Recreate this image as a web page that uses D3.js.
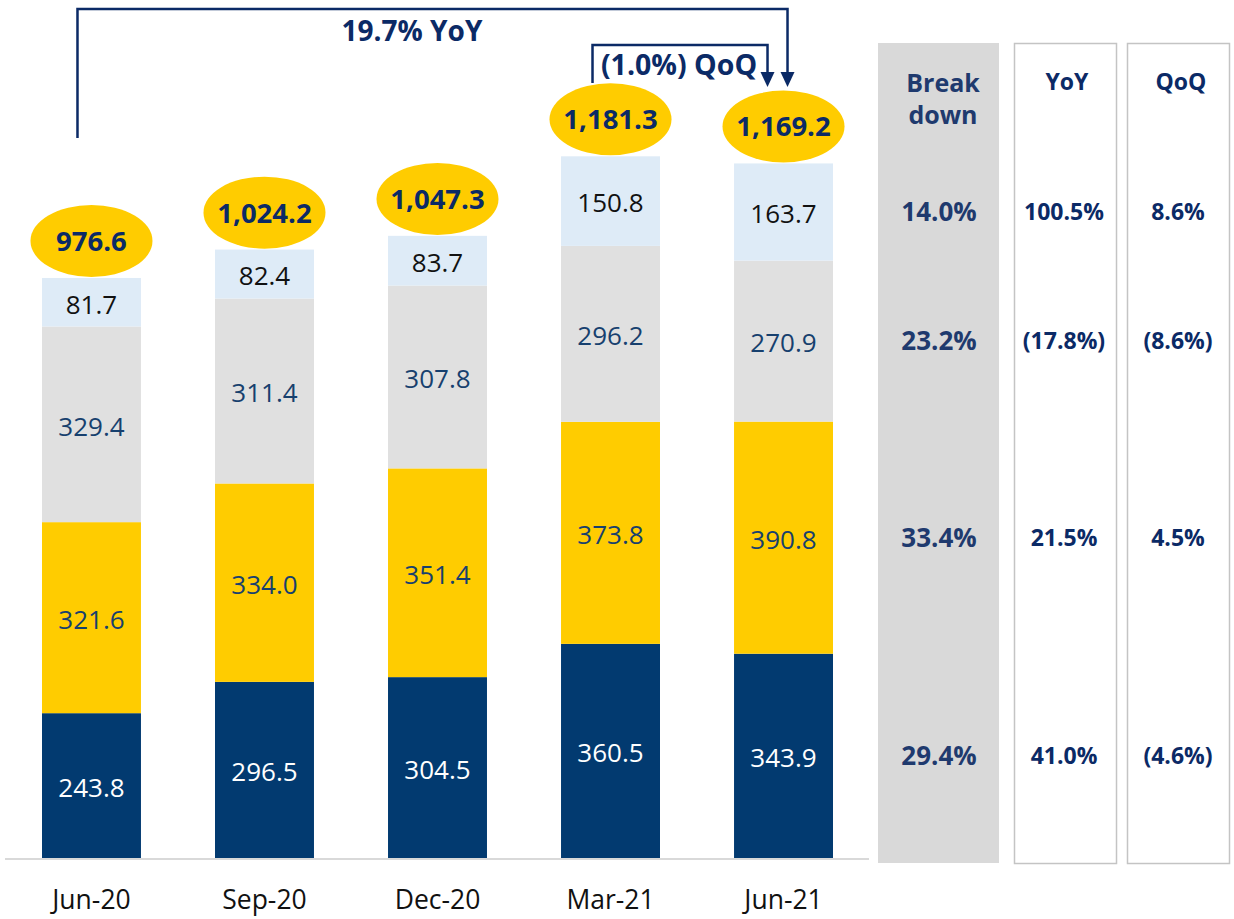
<!DOCTYPE html>
<html>
<head>
<meta charset="utf-8">
<script src="https://cdn.jsdelivr.net/npm/d3@7/dist/d3.min.js"></script>
<style>
  html, body { margin: 0; padding: 0; background: #fff; }
  svg { display: block; font-family: "Open Sans", "Noto Sans", sans-serif; }
</style>
</head>
<body>
<svg id="chart" width="1234" height="919"></svg>
<script>
// Quarterly figures, stacked bottom to top
const categories = ["Jun-20", "Sep-20", "Dec-20", "Mar-21", "Jun-21"];
const navySeries = [243.8, 296.5, 304.5, 360.5, 343.9];
const yellowSeries = [321.6, 334.0, 351.4, 373.8, 390.8];
const greySeries = [329.4, 311.4, 307.8, 296.2, 270.9];
const lightSeries = [81.7, 82.4, 83.7, 150.8, 163.7];
const totals = [976.6, 1024.2, 1047.3, 1181.3, 1169.2];

// Latest-quarter side table, rows ordered bottom to top like the stack
const breakdownShare = ["29.4%", "33.4%", "23.2%", "14.0%"];
const yoyChange = ["41.0%", "21.5%", "(17.8%)", "100.5%"];
const qoqChange = ["(4.6%)", "4.5%", "(8.6%)", "8.6%"];

const yoyTotalLabel = "19.7% YoY";
const qoqTotalLabel = "(1.0%) QoQ";

const seriesKeys = ["navy", "yellow", "grey", "light"];
const seriesColors = { navy: "#023a70", yellow: "#ffcc00", grey: "#e0e0e0", light: "#deebf7" };
const labelColors = { navy: "#ffffff", yellow: "#17406e", grey: "#17406e", light: "#111111" };

const NAVY_TEXT = "#0b2a66";

const rows = categories.map((c, i) => ({
  category: c,
  navy: navySeries[i],
  yellow: yellowSeries[i],
  grey: greySeries[i],
  light: lightSeries[i],
  total: totals[i]
}));

const svg = d3.select("#chart");

const baseY = 858;
const x = d3.scaleBand().domain(categories).range([42, 833]).paddingInner(0.428).paddingOuter(0);
const y = d3.scaleLinear().domain([0, baseY / 0.594]).range([baseY, 0]);

const stacked = d3.stack().keys(seriesKeys)(rows);

// Baseline
svg.append("line")
  .attr("x1", 5).attr("x2", 869)
  .attr("y1", baseY + 1).attr("y2", baseY + 1)
  .attr("stroke", "#d9d9d9").attr("stroke-width", 2);

// Stacked bars
const layers = svg.append("g").selectAll("g")
  .data(stacked).join("g")
  .attr("fill", d => seriesColors[d.key]);

layers.selectAll("rect")
  .data(d => d.map(p => ({ p, key: d.key })))
  .join("rect")
  .attr("x", d => x(d.p.data.category))
  .attr("width", x.bandwidth())
  .attr("y", d => y(d.p[1]))
  .attr("height", d => y(d.p[0]) - y(d.p[1]));

// Segment value labels
const segFont = 26;
layers.selectAll("text")
  .data(d => d.map(p => ({ p, key: d.key })))
  .join("text")
  .attr("x", d => x(d.p.data.category) + x.bandwidth() / 2)
  .attr("y", d => (y(d.p[0]) + y(d.p[1])) / 2 + 0.36 * segFont + 2)
  .attr("text-anchor", "middle")
  .attr("font-size", segFont)
  .attr("fill", d => labelColors[d.key])
  .text(d => d.p.data[d.key].toFixed(1));

// Category labels
svg.append("g").selectAll("text")
  .data(categories).join("text")
  .attr("x", d => x(d) + x.bandwidth() / 2)
  .attr("y", 909)
  .attr("text-anchor", "middle")
  .attr("font-size", 26.5)
  .attr("fill", "#111")
  .text(d => d);

// Total bubbles
const fmtTotal = d3.format(",.1f");
const bubbleFont = 27.5;
const bubbles = svg.append("g").selectAll("g")
  .data(rows).join("g")
  .attr("transform", d => `translate(${x(d.category) + x.bandwidth() / 2},${y(d.total) - 37})`);
bubbles.append("ellipse")
  .attr("rx", 61).attr("ry", 36)
  .attr("fill", "#ffcc00");
bubbles.append("text")
  .attr("y", 0.36 * bubbleFont)
  .attr("text-anchor", "middle")
  .attr("font-size", bubbleFont)
  .attr("font-weight", 700)
  .attr("fill", NAVY_TEXT)
  .text(d => fmtTotal(d.total));

// Connector brackets with arrowheads
function arrowHead(tipX, tipY) {
  return `M${tipX - 7},${tipY - 15} L${tipX + 7},${tipY - 15} L${tipX},${tipY} Z`;
}
const first = categories[0], prev = categories[3], last = categories[4];
const cx = c => x(c) + x.bandwidth() / 2;
const tipY = 87;

const yoyLeft = cx(first) - 14, yoyRight = cx(last) + 4;
svg.append("path")
  .attr("d", `M${yoyLeft},138 V9 H${yoyRight} V${tipY - 12}`)
  .attr("fill", "none").attr("stroke", NAVY_TEXT).attr("stroke-width", 2.5);
svg.append("path").attr("d", arrowHead(yoyRight, tipY)).attr("fill", NAVY_TEXT);

const qoqLeft = cx(prev) - 18, qoqRight = cx(last) - 16;
svg.append("path")
  .attr("d", `M${qoqLeft},83 V45 H${qoqRight} V${tipY - 12}`)
  .attr("fill", "none").attr("stroke", NAVY_TEXT).attr("stroke-width", 2.5);
svg.append("path").attr("d", arrowHead(qoqRight, tipY)).attr("fill", NAVY_TEXT);

svg.append("text")
  .attr("x", 412).attr("y", 41)
  .attr("text-anchor", "middle")
  .attr("font-size", 28).attr("font-weight", 700)
  .attr("fill", NAVY_TEXT)
  .text(yoyTotalLabel);

svg.append("text")
  .attr("x", 679).attr("y", 75)
  .attr("text-anchor", "middle")
  .attr("font-size", 28.5).attr("font-weight", 700)
  .attr("fill", NAVY_TEXT)
  .text(qoqTotalLabel);

// Side table for the latest quarter
const panelTop = 43, panelBottom = 863;
svg.append("rect")
  .attr("x", 878).attr("y", panelTop)
  .attr("width", 121).attr("height", panelBottom - panelTop)
  .attr("fill", "#d9d9d9");
[[1014, 102], [1127, 102]].forEach(([bx, bw]) => {
  svg.append("rect")
    .attr("x", bx + 0.5).attr("y", panelTop + 0.5)
    .attr("width", bw).attr("height", panelBottom - panelTop)
    .attr("fill", "#fff").attr("stroke", "#c4c4c4").attr("stroke-width", 1.5);
});

const headerFont = 25;
svg.append("text")
  .attr("x", 943).attr("y", 83 + 0.36 * headerFont)
  .attr("text-anchor", "middle").attr("font-size", headerFont).attr("font-weight", 700)
  .attr("fill", "#1f3a6e").text("Break");
svg.append("text")
  .attr("x", 943).attr("y", 115 + 0.36 * headerFont)
  .attr("text-anchor", "middle").attr("font-size", headerFont).attr("font-weight", 700)
  .attr("fill", "#1f3a6e").text("down");
svg.append("text")
  .attr("x", 1067).attr("y", 82 + 0.36 * 23)
  .attr("text-anchor", "middle").attr("font-size", 23).attr("font-weight", 700)
  .attr("fill", NAVY_TEXT).text("YoY");
svg.append("text")
  .attr("x", 1181).attr("y", 82 + 0.36 * 23)
  .attr("text-anchor", "middle").attr("font-size", 23).attr("font-weight", 700)
  .attr("fill", NAVY_TEXT).text("QoQ");

// Rows sit at the midpoints of the latest quarter's segments
const latestStack = stacked.map(layer => layer[layer.length - 1]);
const rowMid = latestStack.map(p => (y(p[0]) + y(p[1])) / 2);

const tableCols = [
  { cx: 939, values: breakdownShare, size: 26, color: "#1f3a6e" },
  { cx: 1064, values: yoyChange, size: 23, color: NAVY_TEXT },
  { cx: 1178, values: qoqChange, size: 23, color: NAVY_TEXT }
];
tableCols.forEach(col => {
  svg.append("g").selectAll("text")
    .data(col.values).join("text")
    .attr("x", col.cx)
    .attr("y", (d, i) => rowMid[i] + 0.36 * col.size)
    .attr("text-anchor", "middle")
    .attr("font-size", col.size)
    .attr("font-weight", 700)
    .attr("fill", col.color)
    .text(d => d);
});
</script>
</body>
</html>
